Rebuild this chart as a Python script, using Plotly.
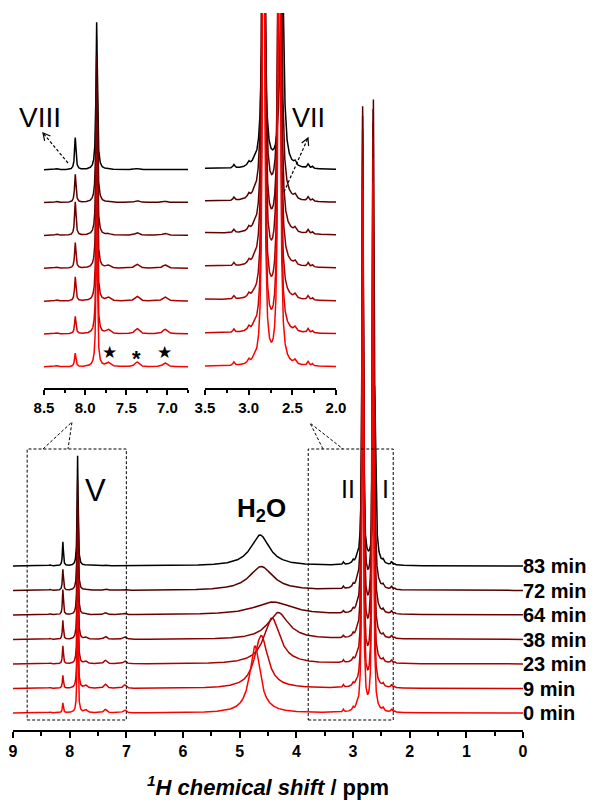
import math
import numpy as np
import plotly.graph_objects as go

# ---------------- data ----------------
times = ["0 min", "9 min", "23 min", "38 min", "64 min", "72 min", "83 min"]
colors = ["#ff0000", "#d40000", "#aa0000", "#850000", "#680000", "#520000", "#000000"]

# water peak per spectrum
h2o_ppm = [4.73, 4.62, 4.43, 4.32, 4.41, 4.62, 4.64]
h2o_height = [67, 53, 46, 27, 13, 24, 31]
h2o_hwhm = [0.11, 0.14, 0.17, 0.22, 0.40, 0.25, 0.20]

# peaks I and II (very intense)
peakI_ppm = [2.65, 2.65, 2.65, 2.65, 2.645, 2.64, 2.62]
peakI_height = [528, 528, 524, 514, 503, 488, 178]
peakII_ppm = [2.83, 2.83, 2.83, 2.83, 2.83, 2.83, 2.83]
peakII_height = [521, 521, 517, 507, 496, 481, 170]
peakI_II_hwhm = [0.012, 0.012, 0.012, 0.013, 0.013, 0.014, 0.022]

# peaks V and VIII
V_ppm = 7.86
V_height = [110, 110, 110, 110, 110, 110, 110]
VIII_ppm = 8.12
VIII_height = [10, 13, 18, 19, 25, 21, 24]
V_VIII_hwhm = 0.01

# small peaks
minor_ppm = [8.35, 7.72, 7.37, 7.03, 3.17, 3.00, 2.94, 2.47, 2.32, 2.27]
minor_hwhm = [0.02, 0.03, 0.03, 0.03, 0.012, 0.015, 0.015, 0.015, 0.012, 0.01]
minor_height = [
    [1.0, 3.0, 3.5, 3.0, 2.5, 3.0, 2.5, 3.0, 3.0, 1.5],
    [1.0, 3.0, 4.0, 3.5, 2.5, 3.0, 2.5, 3.0, 3.0, 1.5],
    [1.0, 2.5, 3.5, 3.0, 2.5, 3.0, 2.5, 3.0, 3.0, 1.5],
    [1.0, 2.0, 3.0, 2.5, 2.5, 3.0, 2.5, 3.0, 3.0, 1.5],
    [1.0, 1.0, 2.0, 1.5, 2.5, 3.0, 2.5, 3.0, 3.0, 1.5],
    [1.0, 0.5, 1.5, 1.0, 2.5, 3.0, 2.5, 3.0, 3.0, 1.5],
    [1.0, 0.5, 1.0, 0.5, 2.5, 3.0, 2.5, 3.0, 3.0, 1.5],
]

main_ticks = [9, 8, 7, 6, 5, 4, 3, 2, 1, 0]
inset1_ticks = [8.5, 8.0, 7.5, 7.0]
inset2_ticks = [3.5, 3.0, 2.5, 2.0]

# ---------------- layout helpers ----------------
# the page body has an 8px margin; positions below are window pixels.
OFF = 8
W, H = 594 - OFF, 800 - OFF
STEP = 24.5  # vertical offset between stacked spectra (data units)
FONT = "Liberation Sans"


def px(x):
    return (x - OFF) / W


def py(y):
    return 1 - (y - OFF) / H


def lor(x, x0, h, w):
    return h * w * w / ((x - x0) ** 2 + w * w)


ppm = np.round(np.arange(9.0, -0.0005, -0.001), 3)


def spectrum(i):
    y = np.zeros_like(ppm)
    y += lor(ppm, h2o_ppm[i], h2o_height[i], h2o_hwhm[i])
    y += lor(ppm, peakI_ppm[i], peakI_height[i], peakI_II_hwhm[i])
    y += lor(ppm, peakII_ppm[i], peakII_height[i], peakI_II_hwhm[i])
    y += lor(ppm, V_ppm, V_height[i], V_VIII_hwhm)
    y += lor(ppm, VIII_ppm, VIII_height[i], V_VIII_hwhm)
    for p, w, h in zip(minor_ppm, minor_hwhm, minor_height[i]):
        y += lor(ppm, p, h, w)
    return y


fig = go.Figure()
order = list(range(len(times)))[::-1]  # 83 min first, 0 min drawn on top
m1 = (ppm <= 8.5) & (ppm >= 6.75)
m2 = (ppm <= 3.5) & (ppm >= 2.0)
for i in order:
    y = np.round(spectrum(i) + i * STEP, 2)
    line = dict(color=colors[i], width=1.5)
    fig.add_trace(go.Scatter(x=ppm, y=y, mode="lines", line=line, name=times[i],
                             xaxis="x", yaxis="y", showlegend=False, hoverinfo="skip"))
    fig.add_trace(go.Scatter(x=ppm[m1], y=y[m1], mode="lines", line=line, name=times[i],
                             xaxis="x2", yaxis="y2", showlegend=False, hoverinfo="skip"))
    fig.add_trace(go.Scatter(x=ppm[m2], y=y[m2], mode="lines", line=line, name=times[i],
                             xaxis="x3", yaxis="y3", showlegend=False, hoverinfo="skip"))

tickfont_main = dict(family=FONT, size=16, color="black", weight="bold")
tickfont_inset = dict(family=FONT, size=15, color="black", weight="bold")
main_y_range = [-17, 713 - 95]
inset_scale = 1.34
inset_y_range = [-(388 - 367) / inset_scale, (367 - 13) / inset_scale]


def xax(dom, rng, ticks, texts, font, tl, minor_dt, mtl, anchor):
    return dict(domain=dom, range=rng, tickvals=ticks, ticktext=texts, ticks="outside",
                ticklen=tl, tickwidth=2, showline=True, linewidth=2, linecolor="black",
                tickcolor="black", showgrid=False, zeroline=False, tickfont=font,
                automargin=False,
                minor=dict(dtick=minor_dt, tick0=0, ticks="outside", ticklen=mtl,
                           tickwidth=1.5, tickcolor="black", showgrid=False),
                anchor=anchor)


fig.update_layout(
    width=W, height=H, margin=dict(l=0, r=0, t=0, b=0),
    paper_bgcolor="white", plot_bgcolor="rgba(0,0,0,0)",
    font=dict(family=FONT),
    xaxis=xax([px(13), px(523)], [9, 0], main_ticks, [str(t) for t in main_ticks],
              tickfont_main, 6, 0.5, 4, "y"),
    yaxis=dict(domain=[py(730), py(95)], range=main_y_range, visible=False, anchor="x"),
    xaxis2=xax([px(44), px(188)], [8.5, 6.75], inset1_ticks,
               ["%.1f" % t for t in inset1_ticks], tickfont_inset, 5, 0.25, 3, "y2"),
    yaxis2=dict(domain=[py(388), py(13)], range=inset_y_range, visible=False, anchor="x2"),
    xaxis3=xax([px(205), px(336)], [3.5, 2.0], inset2_ticks,
               ["%.1f" % t for t in inset2_ticks], tickfont_inset, 5, 0.25, 3, "y3"),
    yaxis3=dict(domain=[py(388), py(13)], range=inset_y_range, visible=False, anchor="x3"),
)

# ---------------- shapes ----------------
dash_line = dict(color="black", width=1, dash="3px,2px")
shapes = []
shapes.append(dict(type="rect", xref="x", yref="y", x0=8.75, x1=7.0, y0=-7, y1=264,
                   line=dash_line))
shapes.append(dict(type="rect", xref="x", yref="y", x0=3.79, x1=2.29, y0=-7, y1=264,
                   line=dash_line))


def ppath(points):
    s = "M %f,%f" % (px(points[0][0]), py(points[0][1]))
    for x, y in points[1:]:
        s += " L %f,%f" % (px(x), py(y))
    return s


shapes.append(dict(type="path", xref="paper", yref="paper",
                   path=ppath([(43, 449), (72, 422), (68, 449)]), line=dash_line))
shapes.append(dict(type="path", xref="paper", yref="paper",
                   path=ppath([(323, 449), (310, 423), (343, 449)]), line=dash_line))


def arrow(tail, head, L=8, ang=28):
    dx, dy = tail[0] - head[0], tail[1] - head[1]
    n = math.hypot(dx, dy)
    ux, uy = dx / n, dy / n
    wings = []
    for s in (1, -1):
        a = math.radians(ang * s)
        wx = ux * math.cos(a) - uy * math.sin(a)
        wy = ux * math.sin(a) + uy * math.cos(a)
        wings.append((head[0] + L * wx, head[1] + L * wy))
    shapes.append(dict(type="path", xref="paper", yref="paper", path=ppath([tail, head]),
                       line=dict(color="black", width=1.2, dash="3px,2px")))
    shapes.append(dict(type="path", xref="paper", yref="paper",
                       path=ppath([wings[0], head, wings[1]]),
                       line=dict(color="black", width=1.2)))


arrow((68, 163), (43, 133))
arrow((284, 192), (308, 138))

fig.update_layout(shapes=shapes)

# ---------------- annotations ----------------
ann = []
for i, t in enumerate(times):
    ann.append(dict(x=px(521), y=py(713 - i * STEP), xref="paper", yref="paper",
                    text="<b>%s</b>" % t, showarrow=False, xanchor="left", yanchor="middle",
                    font=dict(family=FONT, size=20, color="black")))


def label(text, x, y, size, bold=False):
    ann.append(dict(x=px(x), y=py(y), xref="paper", yref="paper",
                    text=("<b>%s</b>" % text) if bold else text, showarrow=False,
                    xanchor="center", yanchor="middle",
                    font=dict(family=FONT, size=size, color="black")))


label("<i><sup>1</sup>H chemical shift</i> / ppm", 268, 786, 22, bold=True)
label("H<sub>2</sub>O", 261, 509, 26, bold=True)
label("V", 95, 490, 31)
label("II", 348, 489, 25)
label("I", 385, 489, 25)
label("VIII", 40, 117, 28)
label("VII", 308, 118, 27)
label("★", 109, 353, 17)
label("*", 136, 358, 22, bold=True)
label("★", 164, 353, 17)

fig.update_layout(annotations=ann)
fig.write_html("out.html")
